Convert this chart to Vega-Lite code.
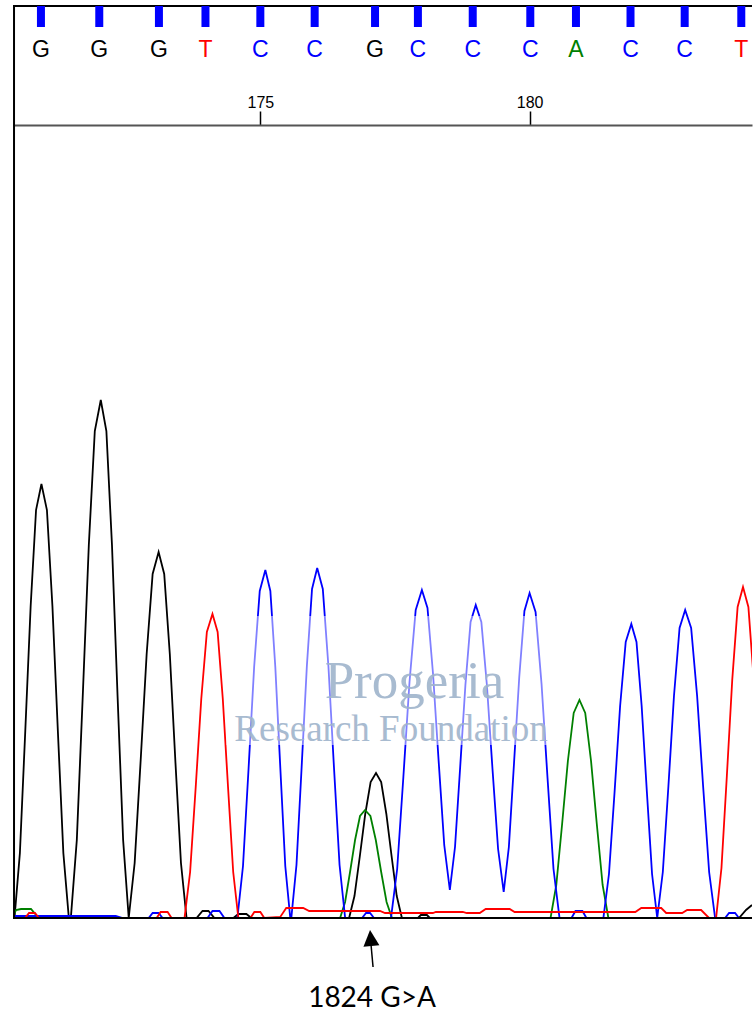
{
  "$schema": "https://vega.github.io/schema/vega-lite/v6.json",
  "width": 753,
  "height": 1013,
  "autosize": {"type": "fit", "contains": "padding"},
  "padding": {"left": 12, "top": 5, "right": 0, "bottom": 0},
  "background": "white",
  "config": {"view": {"stroke": null}, "scale": {"continuousPadding": 0}},
  "resolve": {"axis": {"x": "independent", "y": "independent"}},
  "datasets": {
    "one": [{}],
    "calls": [
      {"number": 171, "pos": 170.926, "base": "G"},
      {"number": 172, "pos": 172.009, "base": "G"},
      {"number": 173, "pos": 173.117, "base": "G"},
      {"number": 174, "pos": 173.981, "base": "T"},
      {"number": 175, "pos": 175.0, "base": "C"},
      {"number": 176, "pos": 176.009, "base": "C"},
      {"number": 177, "pos": 177.13, "base": "G"},
      {"number": 178, "pos": 177.926, "base": "C"},
      {"number": 179, "pos": 178.944, "base": "C"},
      {"number": 180, "pos": 180.013, "base": "C"},
      {"number": 181, "pos": 180.861, "base": "A"},
      {"number": 182, "pos": 181.874, "base": "C"},
      {"number": 183, "pos": 182.88, "base": "C"},
      {"number": 184, "pos": 183.931, "base": "T"}
    ],
    "traces": [
      {"base": "G", "pos": 170.435, "signal": 0},
      {"base": "G", "pos": 170.535, "signal": 65},
      {"base": "G", "pos": 170.635, "signal": 187},
      {"base": "G", "pos": 170.735, "signal": 312},
      {"base": "G", "pos": 170.835, "signal": 408},
      {"base": "G", "pos": 170.935, "signal": 434},
      {"base": "G", "pos": 171.037, "signal": 408},
      {"base": "G", "pos": 171.139, "signal": 312},
      {"base": "G", "pos": 171.24, "signal": 187},
      {"base": "G", "pos": 171.342, "signal": 65},
      {"base": "G", "pos": 171.444, "signal": 0},
      {"base": "G", "pos": 171.481, "signal": 0},
      {"base": "G", "pos": 171.592, "signal": 78},
      {"base": "G", "pos": 171.703, "signal": 223},
      {"base": "G", "pos": 171.815, "signal": 373},
      {"base": "G", "pos": 171.926, "signal": 487},
      {"base": "G", "pos": 172.037, "signal": 518},
      {"base": "G", "pos": 172.141, "signal": 487},
      {"base": "G", "pos": 172.245, "signal": 373},
      {"base": "G", "pos": 172.348, "signal": 223},
      {"base": "G", "pos": 172.452, "signal": 78},
      {"base": "G", "pos": 172.556, "signal": 0},
      {"base": "G", "pos": 172.666, "signal": 55},
      {"base": "G", "pos": 172.777, "signal": 157},
      {"base": "G", "pos": 172.889, "signal": 264},
      {"base": "G", "pos": 173.0, "signal": 344},
      {"base": "G", "pos": 173.111, "signal": 366},
      {"base": "G", "pos": 173.215, "signal": 344},
      {"base": "G", "pos": 173.319, "signal": 264},
      {"base": "G", "pos": 173.422, "signal": 157},
      {"base": "G", "pos": 173.526, "signal": 55},
      {"base": "G", "pos": 173.63, "signal": 0},
      {"base": "G", "pos": 173.815, "signal": 0},
      {"base": "G", "pos": 173.926, "signal": 7},
      {"base": "G", "pos": 174.037, "signal": 7},
      {"base": "G", "pos": 174.148, "signal": 0},
      {"base": "G", "pos": 174.5, "signal": 0},
      {"base": "G", "pos": 174.593, "signal": 4},
      {"base": "G", "pos": 174.741, "signal": 4},
      {"base": "G", "pos": 174.833, "signal": 0},
      {"base": "G", "pos": 176.648, "signal": 0},
      {"base": "G", "pos": 176.748, "signal": 22},
      {"base": "G", "pos": 176.848, "signal": 62},
      {"base": "G", "pos": 176.948, "signal": 104},
      {"base": "G", "pos": 177.048, "signal": 136},
      {"base": "G", "pos": 177.148, "signal": 145},
      {"base": "G", "pos": 177.244, "signal": 136},
      {"base": "G", "pos": 177.34, "signal": 104},
      {"base": "G", "pos": 177.437, "signal": 62},
      {"base": "G", "pos": 177.533, "signal": 22},
      {"base": "G", "pos": 177.629, "signal": 0},
      {"base": "G", "pos": 177.926, "signal": 0},
      {"base": "G", "pos": 177.981, "signal": 3},
      {"base": "G", "pos": 178.093, "signal": 3},
      {"base": "G", "pos": 178.148, "signal": 0},
      {"base": "G", "pos": 183.889, "signal": 0},
      {"base": "G", "pos": 184.019, "signal": 8},
      {"base": "G", "pos": 184.13, "signal": 13},

      {"base": "A", "pos": 170.407, "signal": 2},
      {"base": "A", "pos": 170.463, "signal": 8},
      {"base": "A", "pos": 170.556, "signal": 9},
      {"base": "A", "pos": 170.741, "signal": 9},
      {"base": "A", "pos": 170.852, "signal": 2},
      {"base": "A", "pos": 170.926, "signal": 0},
      {"base": "A", "pos": 171.519, "signal": 0},
      {"base": "A", "pos": 171.556, "signal": 2},
      {"base": "A", "pos": 171.852, "signal": 2},
      {"base": "A", "pos": 171.889, "signal": 0},
      {"base": "A", "pos": 176.481, "signal": 0},
      {"base": "A", "pos": 176.574, "signal": 16},
      {"base": "A", "pos": 176.666, "signal": 46},
      {"base": "A", "pos": 176.759, "signal": 78},
      {"base": "A", "pos": 176.851, "signal": 102},
      {"base": "A", "pos": 176.944, "signal": 108},
      {"base": "A", "pos": 177.044, "signal": 102},
      {"base": "A", "pos": 177.144, "signal": 78},
      {"base": "A", "pos": 177.244, "signal": 46},
      {"base": "A", "pos": 177.344, "signal": 16},
      {"base": "A", "pos": 177.444, "signal": 0},
      {"base": "A", "pos": 180.389, "signal": 0},
      {"base": "A", "pos": 180.496, "signal": 33},
      {"base": "A", "pos": 180.604, "signal": 94},
      {"base": "A", "pos": 180.711, "signal": 157},
      {"base": "A", "pos": 180.819, "signal": 205},
      {"base": "A", "pos": 180.926, "signal": 218},
      {"base": "A", "pos": 181.033, "signal": 205},
      {"base": "A", "pos": 181.141, "signal": 157},
      {"base": "A", "pos": 181.248, "signal": 94},
      {"base": "A", "pos": 181.356, "signal": 33},
      {"base": "A", "pos": 181.463, "signal": 0},
      {"base": "A", "pos": 184.13, "signal": 0},

      {"base": "C", "pos": 170.407, "signal": 2},
      {"base": "C", "pos": 172.315, "signal": 2},
      {"base": "C", "pos": 172.444, "signal": 0},
      {"base": "C", "pos": 172.926, "signal": 0},
      {"base": "C", "pos": 173.0, "signal": 5},
      {"base": "C", "pos": 173.111, "signal": 5},
      {"base": "C", "pos": 173.185, "signal": 0},
      {"base": "C", "pos": 174.019, "signal": 0},
      {"base": "C", "pos": 174.111, "signal": 7},
      {"base": "C", "pos": 174.241, "signal": 7},
      {"base": "C", "pos": 174.333, "signal": 0},
      {"base": "C", "pos": 174.574, "signal": 0},
      {"base": "C", "pos": 174.678, "signal": 52},
      {"base": "C", "pos": 174.782, "signal": 150},
      {"base": "C", "pos": 174.885, "signal": 251},
      {"base": "C", "pos": 174.989, "signal": 327},
      {"base": "C", "pos": 175.093, "signal": 348},
      {"base": "C", "pos": 175.186, "signal": 327},
      {"base": "C", "pos": 175.278, "signal": 251},
      {"base": "C", "pos": 175.371, "signal": 150},
      {"base": "C", "pos": 175.463, "signal": 52},
      {"base": "C", "pos": 175.556, "signal": 0},
      {"base": "C", "pos": 175.575, "signal": 0},
      {"base": "C", "pos": 175.671, "signal": 53},
      {"base": "C", "pos": 175.767, "signal": 151},
      {"base": "C", "pos": 175.864, "signal": 252},
      {"base": "C", "pos": 175.96, "signal": 329},
      {"base": "C", "pos": 176.056, "signal": 350},
      {"base": "C", "pos": 176.16, "signal": 329},
      {"base": "C", "pos": 176.264, "signal": 252},
      {"base": "C", "pos": 176.367, "signal": 151},
      {"base": "C", "pos": 176.471, "signal": 53},
      {"base": "C", "pos": 176.575, "signal": 0},
      {"base": "C", "pos": 176.889, "signal": 0},
      {"base": "C", "pos": 176.963, "signal": 5},
      {"base": "C", "pos": 177.037, "signal": 5},
      {"base": "C", "pos": 177.111, "signal": 0},
      {"base": "C", "pos": 177.426, "signal": 0},
      {"base": "C", "pos": 177.541, "signal": 49},
      {"base": "C", "pos": 177.656, "signal": 141},
      {"base": "C", "pos": 177.77, "signal": 236},
      {"base": "C", "pos": 177.885, "signal": 308},
      {"base": "C", "pos": 178.0, "signal": 328},
      {"base": "C", "pos": 178.104, "signal": 310},
      {"base": "C", "pos": 178.207, "signal": 244},
      {"base": "C", "pos": 178.311, "signal": 157},
      {"base": "C", "pos": 178.415, "signal": 73},
      {"base": "C", "pos": 178.519, "signal": 28},
      {"base": "C", "pos": 178.615, "signal": 71},
      {"base": "C", "pos": 178.711, "signal": 151},
      {"base": "C", "pos": 178.808, "signal": 233},
      {"base": "C", "pos": 178.904, "signal": 296},
      {"base": "C", "pos": 179.0, "signal": 313},
      {"base": "C", "pos": 179.104, "signal": 296},
      {"base": "C", "pos": 179.207, "signal": 233},
      {"base": "C", "pos": 179.311, "signal": 149},
      {"base": "C", "pos": 179.415, "signal": 69},
      {"base": "C", "pos": 179.519, "signal": 26},
      {"base": "C", "pos": 179.615, "signal": 71},
      {"base": "C", "pos": 179.711, "signal": 155},
      {"base": "C", "pos": 179.808, "signal": 241},
      {"base": "C", "pos": 179.904, "signal": 307},
      {"base": "C", "pos": 180.0, "signal": 325},
      {"base": "C", "pos": 180.111, "signal": 306},
      {"base": "C", "pos": 180.222, "signal": 234},
      {"base": "C", "pos": 180.333, "signal": 140},
      {"base": "C", "pos": 180.444, "signal": 49},
      {"base": "C", "pos": 180.556, "signal": 0},
      {"base": "C", "pos": 180.778, "signal": 0},
      {"base": "C", "pos": 180.852, "signal": 7},
      {"base": "C", "pos": 180.981, "signal": 7},
      {"base": "C", "pos": 181.056, "signal": 0},
      {"base": "C", "pos": 181.37, "signal": 0},
      {"base": "C", "pos": 181.474, "signal": 44},
      {"base": "C", "pos": 181.578, "signal": 126},
      {"base": "C", "pos": 181.681, "signal": 212},
      {"base": "C", "pos": 181.785, "signal": 276},
      {"base": "C", "pos": 181.889, "signal": 294},
      {"base": "C", "pos": 181.985, "signal": 276},
      {"base": "C", "pos": 182.081, "signal": 212},
      {"base": "C", "pos": 182.178, "signal": 126},
      {"base": "C", "pos": 182.274, "signal": 44},
      {"base": "C", "pos": 182.37, "signal": 0},
      {"base": "C", "pos": 182.474, "signal": 46},
      {"base": "C", "pos": 182.578, "signal": 132},
      {"base": "C", "pos": 182.681, "signal": 222},
      {"base": "C", "pos": 182.785, "signal": 290},
      {"base": "C", "pos": 182.889, "signal": 308},
      {"base": "C", "pos": 183.0, "signal": 290},
      {"base": "C", "pos": 183.111, "signal": 222},
      {"base": "C", "pos": 183.222, "signal": 132},
      {"base": "C", "pos": 183.334, "signal": 46},
      {"base": "C", "pos": 183.445, "signal": 0},
      {"base": "C", "pos": 183.63, "signal": 0},
      {"base": "C", "pos": 183.704, "signal": 5},
      {"base": "C", "pos": 183.815, "signal": 5},
      {"base": "C", "pos": 183.889, "signal": 0},
      {"base": "C", "pos": 184.13, "signal": 0},

      {"base": "T", "pos": 170.407, "signal": 0},
      {"base": "T", "pos": 170.63, "signal": 0},
      {"base": "T", "pos": 170.704, "signal": 5},
      {"base": "T", "pos": 170.815, "signal": 5},
      {"base": "T", "pos": 170.889, "signal": 0},
      {"base": "T", "pos": 173.074, "signal": 0},
      {"base": "T", "pos": 173.148, "signal": 6},
      {"base": "T", "pos": 173.278, "signal": 6},
      {"base": "T", "pos": 173.352, "signal": 0},
      {"base": "T", "pos": 173.592, "signal": 0},
      {"base": "T", "pos": 173.696, "signal": 46},
      {"base": "T", "pos": 173.8, "signal": 131},
      {"base": "T", "pos": 173.903, "signal": 219},
      {"base": "T", "pos": 174.007, "signal": 286},
      {"base": "T", "pos": 174.111, "signal": 304},
      {"base": "T", "pos": 174.207, "signal": 286},
      {"base": "T", "pos": 174.303, "signal": 219},
      {"base": "T", "pos": 174.4, "signal": 131},
      {"base": "T", "pos": 174.496, "signal": 46},
      {"base": "T", "pos": 174.592, "signal": 0},
      {"base": "T", "pos": 174.815, "signal": 0},
      {"base": "T", "pos": 174.889, "signal": 6},
      {"base": "T", "pos": 175.0, "signal": 6},
      {"base": "T", "pos": 175.074, "signal": 0},
      {"base": "T", "pos": 175.37, "signal": 1},
      {"base": "T", "pos": 175.481, "signal": 10},
      {"base": "T", "pos": 175.796, "signal": 10},
      {"base": "T", "pos": 175.907, "signal": 7},
      {"base": "T", "pos": 177.222, "signal": 7},
      {"base": "T", "pos": 177.315, "signal": 5},
      {"base": "T", "pos": 178.204, "signal": 5},
      {"base": "T", "pos": 178.259, "signal": 6},
      {"base": "T", "pos": 178.759, "signal": 6},
      {"base": "T", "pos": 178.833, "signal": 5},
      {"base": "T", "pos": 179.074, "signal": 5},
      {"base": "T", "pos": 179.185, "signal": 9},
      {"base": "T", "pos": 179.63, "signal": 9},
      {"base": "T", "pos": 179.722, "signal": 6},
      {"base": "T", "pos": 181.963, "signal": 6},
      {"base": "T", "pos": 182.074, "signal": 10},
      {"base": "T", "pos": 182.444, "signal": 10},
      {"base": "T", "pos": 182.537, "signal": 5},
      {"base": "T", "pos": 182.833, "signal": 5},
      {"base": "T", "pos": 182.926, "signal": 8},
      {"base": "T", "pos": 183.185, "signal": 8},
      {"base": "T", "pos": 183.333, "signal": 0},
      {"base": "T", "pos": 183.463, "signal": 0},
      {"base": "T", "pos": 183.563, "signal": 50},
      {"base": "T", "pos": 183.663, "signal": 142},
      {"base": "T", "pos": 183.763, "signal": 238},
      {"base": "T", "pos": 183.863, "signal": 311},
      {"base": "T", "pos": 183.963, "signal": 331},
      {"base": "T", "pos": 184.063, "signal": 311},
      {"base": "T", "pos": 184.163, "signal": 238},
      {"base": "T", "pos": 184.263, "signal": 142}
    ]
  },
  "layer": [
    {
      "data": {"name": "traces"},
      "mark": {"type": "line", "strokeWidth": 1.8, "clip": true, "interpolate": "linear"},
      "encoding": {
        "x": {
          "field": "pos", "type": "quantitative",
          "scale": {"domain": [170.407, 184.13], "nice": false, "zero": false, "padding": 0},
          "axis": {
            "orient": "top", "values": [175, 180], "format": "d", "offset": -120,
            "title": null, "grid": false,
            "domainColor": "#555555", "domainWidth": 2,
            "tickColor": "#000000", "tickWidth": 1.5, "tickSize": 14,
            "labelFont": "Liberation Sans", "labelFontSize": 16, "labelColor": "#000000",
            "labelPadding": 1
          }
        },
        "y": {
          "field": "signal", "type": "quantitative",
          "scale": {"domain": [-95, 913], "nice": false, "zero": false, "padding": 0},
          "axis": null
        },
        "color": {
          "field": "base", "type": "nominal",
          "scale": {"domain": ["G", "A", "C", "T"], "range": ["#000000", "#008000", "#0000ff", "#ff0000"]},
          "legend": null
        },
        "order": {"field": "pos", "type": "quantitative"}
      }
    },
    {
      "data": {"name": "one"},
      "mark": {"type": "rule", "color": "#000000", "strokeWidth": 2},
      "encoding": {"y": {"datum": 912, "type": "quantitative", "axis": null}}
    },
    {
      "data": {"name": "one"},
      "mark": {"type": "rule", "color": "#000000", "strokeWidth": 2},
      "encoding": {"y": {"datum": 0, "type": "quantitative", "axis": null}}
    },
    {
      "data": {"name": "one"},
      "mark": {"type": "rule", "color": "#000000", "strokeWidth": 2},
      "encoding": {
        "x": {"datum": 170.426, "type": "quantitative", "axis": null},
        "y": {"datum": 912, "type": "quantitative", "axis": null},
        "y2": {"datum": 0}
      }
    },
    {
      "data": {"name": "calls"},
      "mark": {"type": "bar", "color": "#0000ff", "size": 8, "orient": "vertical"},
      "encoding": {
        "x": {"field": "pos", "type": "quantitative", "axis": null},
        "y": {"datum": 912, "type": "quantitative", "axis": null},
        "y2": {"datum": 891}
      }
    },
    {
      "data": {"name": "calls"},
      "mark": {"type": "text", "font": "Liberation Sans", "fontSize": 23, "baseline": "alphabetic", "align": "center"},
      "encoding": {
        "x": {"field": "pos", "type": "quantitative", "axis": null},
        "y": {"datum": 861, "type": "quantitative", "axis": null},
        "text": {"field": "base"},
        "color": {"field": "base", "type": "nominal", "legend": null}
      }
    },
    {
      "data": {"name": "one"},
      "mark": {"type": "rect", "fill": "#ffffff", "opacity": 0.5},
      "encoding": {
        "x": {"datum": 174.37, "type": "quantitative", "axis": null},
        "x2": {"datum": 180.426},
        "y": {"datum": 173, "type": "quantitative", "axis": null},
        "y2": {"datum": 302}
      }
    },
    {
      "data": {"name": "one"},
      "mark": {"type": "text", "text": "Progeria", "font": "Liberation Serif", "fontSize": 53, "fill": "#9fb4cc", "opacity": 0.9, "baseline": "alphabetic", "align": "center"},
      "encoding": {
        "x": {"datum": 177.861, "type": "quantitative", "axis": null},
        "y": {"datum": 220, "type": "quantitative", "axis": null}
      }
    },
    {
      "data": {"name": "one"},
      "mark": {"type": "text", "text": "Research Foundation", "font": "Liberation Serif", "fontSize": 37, "fill": "#9fb4cc", "opacity": 0.9, "baseline": "alphabetic", "align": "center"},
      "encoding": {
        "x": {"datum": 177.426, "type": "quantitative", "axis": null},
        "y": {"datum": 177, "type": "quantitative", "axis": null}
      }
    },
    {
      "data": {"name": "one"},
      "mark": {"type": "rule", "color": "#000000", "strokeWidth": 1.5},
      "encoding": {
        "x": {"datum": 177.056, "type": "quantitative", "axis": null},
        "x2": {"datum": 177.093},
        "y": {"datum": -27, "type": "quantitative", "axis": null},
        "y2": {"datum": -49}
      }
    },
    {
      "data": {"name": "one"},
      "mark": {"type": "point", "shape": "M0,-1L1,1L-1,1Z", "size": 256, "filled": true, "color": "#000000", "opacity": 1, "angle": 355},
      "encoding": {
        "x": {"datum": 177.05, "type": "quantitative", "axis": null},
        "y": {"datum": -20, "type": "quantitative", "axis": null}
      }
    },
    {
      "data": {"name": "one"},
      "mark": {"type": "text", "text": "1824 G>A", "font": "Lato", "fontSize": 28, "color": "#000000", "baseline": "alphabetic", "align": "center"},
      "encoding": {
        "x": {"datum": 177.074, "type": "quantitative", "axis": null},
        "y": {"datum": -89, "type": "quantitative", "axis": null}
      }
    }
  ]
}
